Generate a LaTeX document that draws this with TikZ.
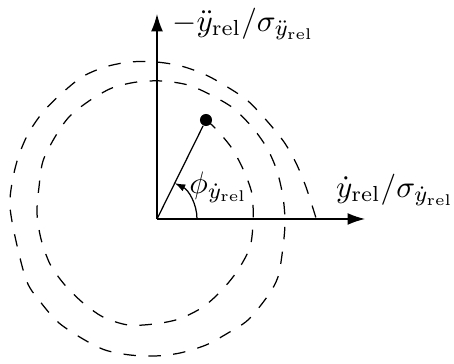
\documentclass[tikz,border=0pt]{standalone}
\usetikzlibrary{arrows.meta,positioning}

\begin{document}
\begin{tikzpicture}[x=1.13mm,y=1.13mm,
    axis/.style={-{Latex[length=5.6pt,width=3.8pt]}},
    traj/.style={dash pattern=on 4pt off 4pt}]
  \useasboundingbox (-15.7,-14.5) rectangle (29.7,21.9);
  \coordinate (O) at (0,0);
  \coordinate (xend) at (20.8,0);
  \coordinate (yend) at (0,20.5);
  % phase plane axes
  \draw[axis] (O) -- (xend);
  \draw[axis] (O) -- (yend);
  \node[anchor=west] (ylab) at (0.45,19.5) {$-\ddot{y}_{\mathrm{rel}}/\sigma_{\ddot{y}_{\mathrm{rel}}}$};
  \node (xlab) at (23.8,2.9) {$\dot{y}_{\mathrm{rel}}/\sigma_{\dot{y}_{\mathrm{rel}}}$};
  % trajectory, from the current state outwards
  \draw[traj] plot[smooth] coordinates {
    (4.9,9.9) (5.8,9.1) (7.4,7.2) (8.6,5.0) (9.5,2.5) (9.6,-0.3)
    (9.3,-2.8) (8.1,-5.1) (6.5,-7.1) (4.6,-8.8) (2.2,-10.0) (-0.3,-10.5)
    (-2.9,-10.6) (-5.4,-9.8) (-7.5,-8.3) (-9.3,-6.5) (-10.7,-4.5) (-11.6,-2.0)
    (-12.0,0.6) (-11.8,3.2) (-11.4,5.8) (-10.2,8.2) (-8.8,10.2) (-6.8,11.8)
    (-4.5,13.1) (-2.0,13.7) (0.5,13.8) (3.1,13.4) (5.4,12.4) (7.6,11.1)
    (9.5,9.2) (11.0,7.1) (12.0,4.8) (12.6,2.2) (12.8,-0.3) (12.6,-2.8)
    (12.1,-5.8) (11.0,-7.8) (9.1,-10.1) (7.1,-11.4) (4.9,-12.6) (2.3,-13.4)
    (-0.2,-13.7) (-2.7,-13.6) (-5.2,-13.1) (-7.4,-12.0) (-9.8,-10.4) (-11.5,-8.5)
    (-13.0,-6.3) (-14.1,-2.2) (-14.7,1.2) (-14.5,3.6) (-13.9,6.1) (-12.9,8.5)
    (-11.4,10.7) (-9.6,12.5) (-7.5,14.2) (-5.2,15.2) (-2.7,15.7) (-0.1,15.7)
    (2.4,15.3) (4.9,14.4) (7.2,13.1) (9.1,11.8) (11.0,9.8) (12.7,7.7)
    (13.9,5.6) (14.9,3.2) (15.9,0.1)};
  \node[circle,fill,inner sep=0pt,minimum size=1.36mm] (pt) at (4.9,9.9) {};
  \draw (O) -- (pt);
  \draw[-{Latex[length=3.4pt,width=2.4pt]}] (O) ++(4,0) arc[start angle=0,end angle=63.7,radius=4];
  \node (phi) at (6.15,3.15) {$\phi_{\dot{y}_{\mathrm{rel}}}$};
\end{tikzpicture}
\end{document}
